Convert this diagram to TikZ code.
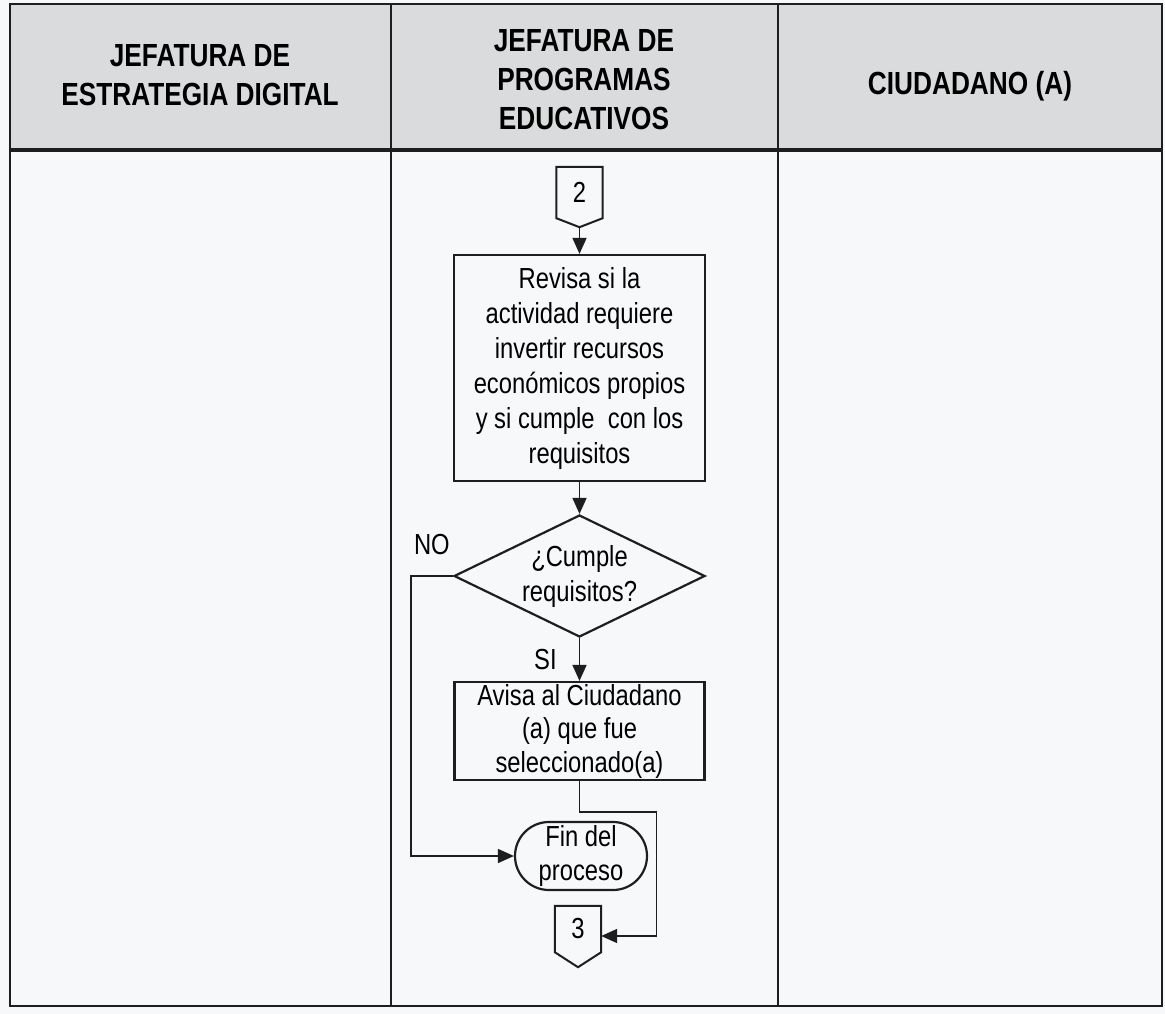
\documentclass[tikz,border=0pt]{standalone}
\usepackage{fontspec}
\setmainfont{Liberation Sans}
\newfontfamily\narrowfont{Liberation Sans}[FakeStretch=0.82]
\usetikzlibrary{shapes.geometric,shapes.misc,arrows.meta}
\definecolor{paper}{RGB}{246,248,250}
\definecolor{headgray}{RGB}{218,219,220}
\definecolor{ink}{RGB}{30,30,32}

\begin{document}
\begin{tikzpicture}[x=1pt, y=1pt,
            head/.style={align=center, font=\narrowfont\bfseries\fontsize{32}{39}\selectfont},
            box/.style={draw=ink, line width=2.2pt, align=center, inner sep=0pt,
                    font=\narrowfont\fontsize{29}{35}\selectfont},
            decision/.style={box, diamond, aspect=2, minimum width=251pt, minimum height=122pt},
            terminal/.style={box, rounded rectangle, minimum width=132pt, minimum height=68pt},
            offpage/.style={inner sep=0pt, minimum width=46pt, font=\narrowfont\fontsize{29}{32}\selectfont},
            lbl/.style={inner sep=0pt, font=\narrowfont\fontsize{29}{32}\selectfont},
            outline/.style={draw=ink, line width=2pt, line join=miter},
            arrow/.style={-{Triangle[length=16pt,width=14pt]}, line width=1.6pt, draw=ink}
        ]
        % page and swimlanes
        \useasboundingbox (0,0) rectangle (1165,-1014);
        \fill[paper] (0,0) rectangle (1165,-1014);
        \fill[headgray] (10,-4) rectangle (1162,-150);
        \draw[ink, line width=2.6pt] (10,-4) rectangle (1162,-1006);
        \draw[ink, line width=3.5pt] (10,-150) -- (1162,-150);
        \draw[ink, line width=1.8pt] (391,-4) -- (391,-1006);
        \draw[ink, line width=1.8pt] (778,-4) -- (778,-1006);

        \node[head] (lane1) at (200,-75.5) {JEFATURA DE\\ESTRATEGIA DIGITAL};
        \node[head] (lane2) at (584,-80) {JEFATURA DE\\PROGRAMAS\\EDUCATIVOS};
        \node[head] (lane3) at (970,-86) {CIUDADANO (A)};

        % flow
        \node[offpage, minimum height=51pt] (c2) at (579.5,-192.5) {2};
        \draw[outline] (c2.north west) -- (c2.north east) -- (c2.south east)
            -- ([yshift=-9pt]c2.south) coordinate (c2tip) -- (c2.south west) -- cycle;
        \node[box, minimum width=251pt, minimum height=226pt] (revisa) at (579.5,-368)
            {Revisa si la\\actividad requiere\\invertir recursos\\económicos propios\\y si cumple \ con los\\requisitos};
        \node[decision] (cumple) at (579.5,-576) {¿Cumple\\requisitos?};
        \node[box, minimum width=250pt, minimum height=98pt, font=\narrowfont\fontsize{29}{33.5}\selectfont] (avisa) at (579.5,-731)
            {Avisa al Ciudadano\\(a) que fue\\seleccionado(a)};
        \node[terminal, font=\narrowfont\fontsize{29}{34}\selectfont] (fin) at (581,-856) {Fin del\\proceso};
        \node[offpage, minimum height=46pt] (c3) at (578,-929) {3};
        \draw[outline] (c3.north west) -- (c3.north east) -- (c3.south east)
            -- ([yshift=-15pt]c3.south) -- (c3.south west) -- cycle;

        \draw[arrow] (c2tip) -- (revisa);
        \draw[arrow] (revisa) -- (cumple);
        \draw[arrow] (cumple.south) -- node[lbl, left=22pt] {SI} (avisa.north);
        \draw[arrow] (cumple.west) -- node[lbl, above=20pt] {NO} ++(-42,0) |- (fin.west);
        \draw[arrow] (avisa.south) -- ++(0,-31) -- ++(77,0) |- ([yshift=-7pt]c3.east);
    \end{tikzpicture}
\end{document}
